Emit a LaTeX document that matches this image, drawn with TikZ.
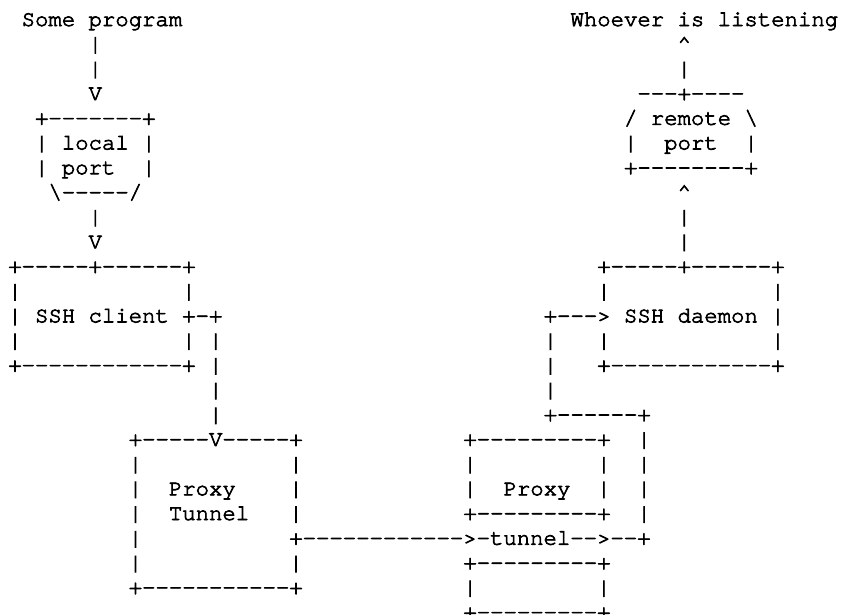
\documentclass[tikz,border=0pt]{standalone}
\usepackage{fontspec}
\setmonofont{TeX Gyre Cursor}
% fill and stroke the glyphs a little, for a slightly heavier typewriter line
\newcommand\heavyglyphs{\special{pdf:literal direct 2 Tr 0.7 w}}
\begin{document}
\begin{tikzpicture}[
  asc/.style={anchor=base west, inner sep=0pt, outer sep=0pt,
              font=\heavyglyphs\ttfamily\fontsize{22.3}{24.7}\selectfont}
]
\fill[white] (0pt,0pt) rectangle (841pt,-614pt);
\useasboundingbox (0pt,0pt) rectangle (841pt,-614pt);
% character grid: x = column, y = row (baseline)
\begin{scope}[x=13.386pt, y=-24.7pt, shift={(8.3pt,-26pt)}]
\node[asc] (r0a) at (1,0) {Some~program};
\node[asc] (r0b) at (42,0) {Whoever~is~listening};
\node[asc] (r1a) at (6,1) {|};
\node[asc] (r1b) at (50,1) {\textasciicircum};
\node[asc] (r2a) at (6,2) {|};
\node[asc] (r2b) at (50,2) {|};
\node[asc] (r3a) at (6,3) {V};
\node[asc] (r3b) at (47,3) {---+----};
\node[asc] (r4a) at (2,4) {+-------+};
\node[asc] (r4b) at (46,4) {/~remote~\textbackslash};
\node[asc] (r5a) at (2,5) {|~local~|};
\node[asc] (r5b) at (46,5) {|~~port~~|};
\node[asc] (r6a) at (2,6) {|~port~~|};
\node[asc] (r6b) at (46,6) {+--------+};
\node[asc] (r7a) at (3,7) {\textbackslash-----/};
\node[asc] (r7b) at (50,7) {\textasciicircum};
\node[asc] (r8a) at (6,8) {|};
\node[asc] (r8b) at (50,8) {|};
\node[asc] (r9a) at (6,9) {V};
\node[asc] (r9b) at (50,9) {|};
\node[asc] (r10a) at (0,10) {+-----+------+};
\node[asc] (r10b) at (44,10) {+-----+------+};
\node[asc] (r11a) at (0,11) {|~~~~~~~~~~~~|};
\node[asc] (r11b) at (44,11) {|~~~~~~~~~~~~|};
\node[asc] (r12a) at (0,12) {|~SSH~client~+-+};
\node[asc] (r12b) at (40,12) {+--->~SSH~daemon~|};
\node[asc] (r13a) at (0,13) {|~~~~~~~~~~~~|~|};
\node[asc] (r13b) at (40,13) {|~~~|~~~~~~~~~~~~|};
\node[asc] (r14a) at (0,14) {+------------+~|};
\node[asc] (r14b) at (40,14) {|~~~+------------+};
\node[asc] (r15a) at (15,15) {|};
\node[asc] (r15b) at (40,15) {|};
\node[asc] (r16a) at (15,16) {|};
\node[asc] (r16b) at (40,16) {+------+};
\node[asc] (r17a) at (9,17) {+-----V-----+};
\node[asc] (r17b) at (34,17) {+---------+~~|};
\node[asc] (r18a) at (9,18) {|~~~~~~~~~~~|};
\node[asc] (r18b) at (34,18) {|~~~~~~~~~|~~|};
\node[asc] (r19a) at (9,19) {|~~Proxy~~~~|};
\node[asc] (r19b) at (34,19) {|~~Proxy~~|~~|};
\node[asc] (r20a) at (9,20) {|~~Tunnel~~~|};
\node[asc] (r20b) at (34,20) {+---------+~~|};
\node[asc] (r21a) at (9,21) {|~~~~~~~~~~~+------------>-tunnel-->--+};
\node[asc] (r22a) at (9,22) {|~~~~~~~~~~~|};
\node[asc] (r22b) at (34,22) {+---------+};
\node[asc] (r23a) at (9,23) {+-----------+};
\node[asc] (r23b) at (34,23) {|~~~~~~~~~|};
\node[asc] (r24b) at (34,24) {+---------+};
\end{scope}
\end{tikzpicture}
\end{document}
